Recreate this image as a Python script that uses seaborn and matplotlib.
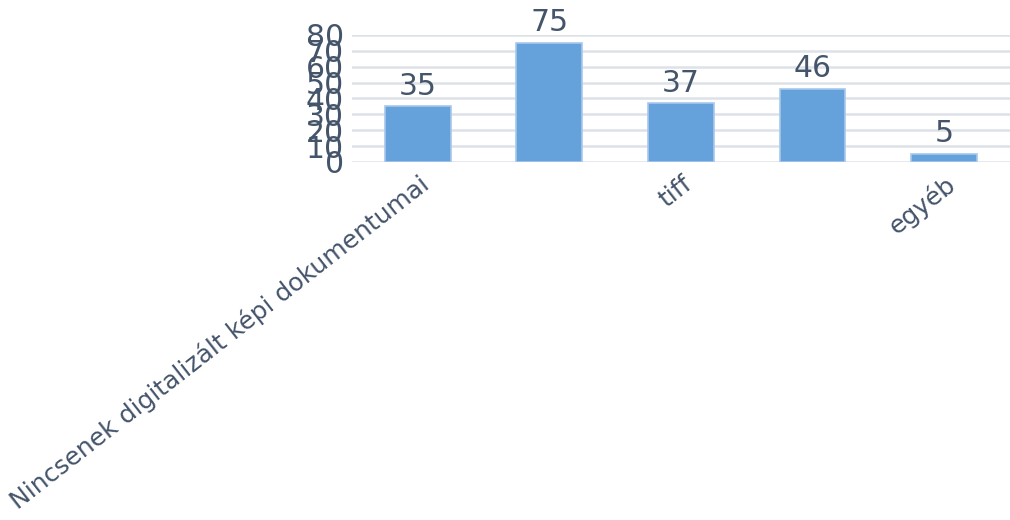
import matplotlib
matplotlib.use("Agg")
import matplotlib.pyplot as plt
import matplotlib.transforms as mtransforms
import seaborn as sns
import pandas as pd

# Data
tick_labels = ["Nincsenek digitalizált képi dokumentumai", "", "tiff", "", "egyéb"]
values = [35, 75, 37, 46, 5]
y_ticks = [0, 10, 20, 30, 40, 50, 60, 70, 80]

TEXT = "#44546a"
BAR = "#65a1db"
EDGE = "#a8c8ec"
GRID = "#dde1e8"

sns.set_theme(style="white")
plt.rcParams["font.family"] = ["DejaVu Sans"]

fig = plt.figure(figsize=(10.1, 5.2), dpi=100)
ax = fig.add_axes([0.3485, 0.6885, 0.6515, 0.2442])

df = pd.DataFrame({"idx": list(range(len(values))), "value": values})
sns.barplot(data=df, x="idx", y="value", color=BAR, width=0.5,
            edgecolor=EDGE, linewidth=1.2, saturation=1, ax=ax, zorder=3)

ax.set_ylim(0, 80)
ax.set_xlim(-0.5, len(values) - 0.5)
ax.set_yticks(y_ticks)
ax.set_yticklabels([str(t) for t in y_ticks], fontsize=21.5, color=TEXT)
ax.yaxis.grid(True, color=GRID, linewidth=1.8, zorder=0)
ax.set_axisbelow(True)
for s in ax.spines.values():
    s.set_visible(False)
ax.tick_params(axis="both", length=0, pad=6)
ax.set_xlabel("")
ax.set_ylabel("")

ax.set_xticks(range(len(values)))
ax.set_xticklabels(tick_labels, rotation=38, ha="right", va="center",
                   rotation_mode="anchor", fontsize=18, color=TEXT)
ax.tick_params(axis="x", pad=14)
offset = mtransforms.ScaledTranslation(6 / 72, 0, fig.dpi_scale_trans)
for lbl in ax.get_xticklabels():
    lbl.set_transform(lbl.get_transform() + offset)

for c in ax.containers:
    ax.bar_label(c, labels=[str(v) for v in values], padding=4,
                 fontsize=21.5, color=TEXT)

fig.savefig("out.png", dpi=100)
